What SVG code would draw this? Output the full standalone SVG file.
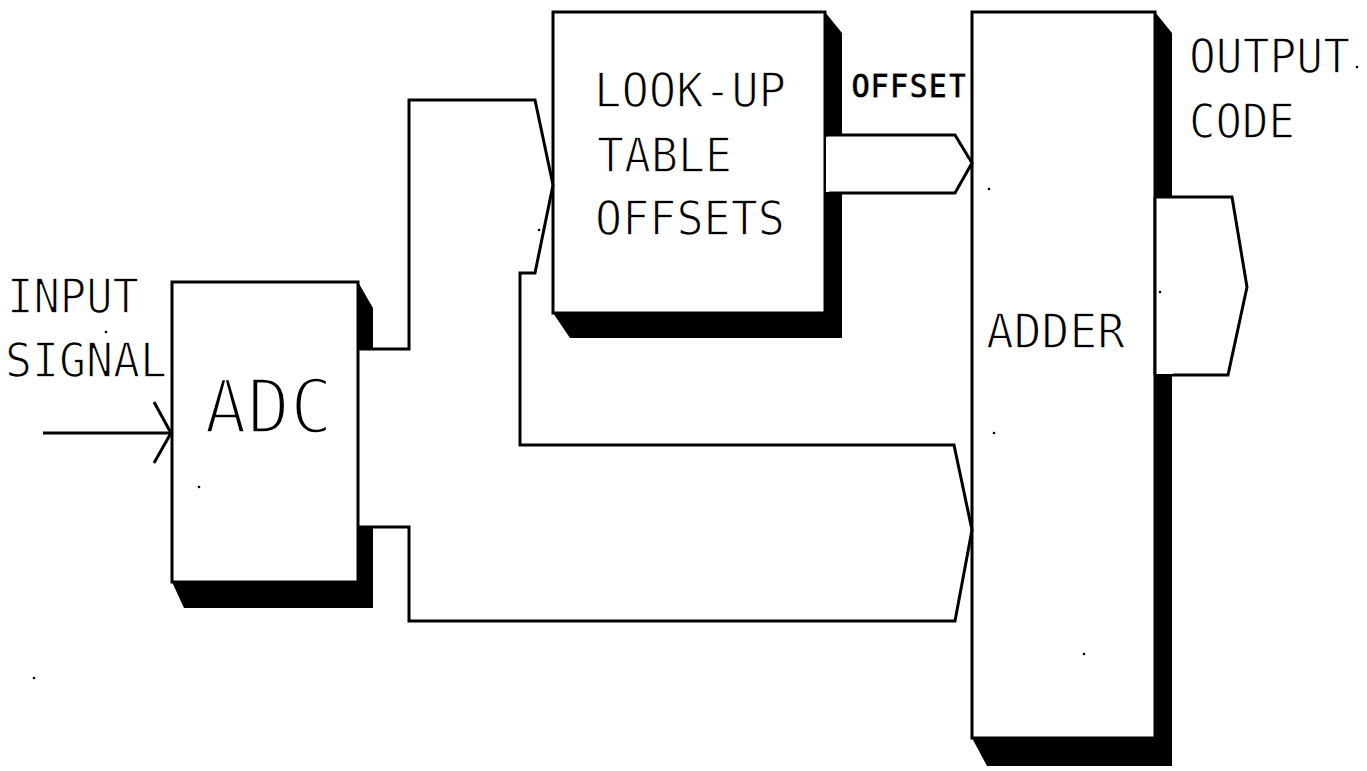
<svg xmlns="http://www.w3.org/2000/svg" width="1367" height="771" viewBox="0 0 1367 771">
<style>
.box{fill:#fff;stroke:#000;stroke-width:3}
.shadow{fill:#000;stroke:none}
.wire{fill:none;stroke:#000;stroke-width:3;stroke-linejoin:miter}
.bus{fill:#fff;stroke:#000;stroke-width:3;stroke-linejoin:miter}
.t{font-family:"DejaVu Sans Mono","Liberation Mono",monospace;font-size:48px;fill:#000;stroke:#fff;stroke-width:1.4}
.big{font-size:75px;stroke-width:3.4}
.small{font-size:34px;font-weight:bold;stroke-width:0.8}
.dot{fill:#000}
</style>
<rect width="1367" height="771" fill="#fff"/>

<g id="input-signal">
<text class="t" x="7" y="313" textLength="132" lengthAdjust="spacingAndGlyphs">INPUT</text>
<text class="t" x="5" y="377" textLength="162" lengthAdjust="spacingAndGlyphs">SIGNAL</text>
</g>

<g id="adc">
<polygon class="shadow" points="358,282 373,308 373,608 184,608 172,582 358,582"/>
<rect x="359" y="350" width="16" height="176" fill="#fff"/>
<rect class="box" x="172" y="282" width="186" height="300"/>
<text class="t big" x="204" y="433" textLength="129" lengthAdjust="spacingAndGlyphs">ADC</text>
</g>

<g id="lut">
<polygon class="shadow" points="825,12 842,33 842,338 570,338 553,313 825,313"/>
<rect class="box" x="553" y="12" width="272" height="301"/>
<text class="t" x="594" y="107" textLength="192" lengthAdjust="spacingAndGlyphs">LOOK-UP</text>
<text class="t" x="597" y="172" textLength="135" lengthAdjust="spacingAndGlyphs">TABLE</text>
<text class="t" x="595" y="235" textLength="190" lengthAdjust="spacingAndGlyphs">OFFSETS</text>
</g>

<g id="adder">
<polygon class="shadow" points="1155,12 1172,33 1172,766 987,766 972,738 1155,738"/>
<rect class="box" x="972" y="12" width="183" height="726"/>
<text class="t" x="986" y="348" textLength="139" lengthAdjust="spacingAndGlyphs">ADDER</text>
</g>

<g id="labels">
<text class="t small" x="851" y="98" textLength="116" lengthAdjust="spacingAndGlyphs">OFFSET</text>
<text class="t" x="1189" y="73" textLength="161" lengthAdjust="spacingAndGlyphs">OUTPUT</text>
<text class="t" x="1189" y="138" textLength="106" lengthAdjust="spacingAndGlyphs">CODE</text>
</g>

<g id="connectors">
<path class="wire" d="M43,433 L171,433 M154,402 L171,433 L154,463"/>
<path class="wire" d="M358,349 L409,349 L409,100 L535,100 L553,185 L535,273 L520,273 L520,445 L954,445 L972,530 L955,621 L409,621 L409,527 L358,527"/>
<path class="bus" d="M827,135 L955,135 L972,163 L955,193 L827,193"/>
<rect x="826" y="137" width="3" height="55" fill="#fff"/>
<path class="bus" d="M1156,197 L1232,197 L1247,287 L1228,375 L1156,375"/>
<rect x="1156" y="199" width="17" height="175" fill="#fff"/>
<path class="wire" d="M1155,197 L1155,375"/>
</g>

<g id="specks">
<circle class="dot" cx="106" cy="332" r="1.3"/>
<circle class="dot" cx="199" cy="487" r="1.3"/>
<circle class="dot" cx="539" cy="230" r="1.3"/>
<circle class="dot" cx="989" cy="189" r="1.3"/>
<circle class="dot" cx="994" cy="433" r="1.3"/>
<circle class="dot" cx="1160" cy="292" r="1.3"/>
<circle class="dot" cx="1084" cy="654" r="1.3"/>
<circle class="dot" cx="1357" cy="67" r="1.3"/>
<circle class="dot" cx="34" cy="678" r="1.3"/>
</g>
</svg>
